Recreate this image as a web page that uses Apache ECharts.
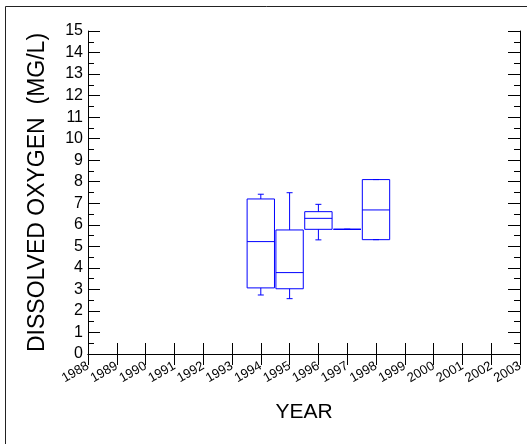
<!DOCTYPE html>
<html>
<head>
<meta charset="utf-8">
<script src="https://cdn.jsdelivr.net/npm/echarts@6/dist/echarts.min.js"></script>
<style>
  html, body { margin: 0; padding: 0; background: #fff; }
  #chart { width: 527px; height: 444px; }
</style>
</head>
<body>
<div id="chart"></div>
<script>
// Yearly dissolved oxygen summaries (mg/L)
const years        = [1994, 1995, 1996, 1997, 1998];
const whiskerLow   = [2.74, 2.57, 5.30, 5.79, 5.31];
const quartile1    = [3.07, 3.03, 5.79, 5.79, 5.31];
const medians      = [5.22, 3.78, 6.30, 5.79, 6.69];
const quartile3    = [7.20, 5.76, 6.61, 5.79, 8.10];
const whiskerHigh  = [7.42, 7.49, 6.95, 5.79, 8.10];

const FONT = '"Liberation Sans", Arial, sans-serif';
const BOX_COLOR = '#0000ff';
const BOX_HALF = 0.475;   // half box width, in years
const CAP_HALF = 3;       // half whisker-cap width, in px

const boxData = years.map((y, i) =>
  [y, whiskerLow[i], quartile1[i], medians[i], quartile3[i], whiskerHigh[i]]);

function renderBox(params, api) {
  const x = api.value(0);
  const lo = api.value(1), q1 = api.value(2), md = api.value(3),
        q3 = api.value(4), hi = api.value(5);
  const pL = api.coord([x - BOX_HALF, q3]);
  const pR = api.coord([x + BOX_HALF, q1]);
  const cx = api.coord([x, md])[0];
  const yMd = api.coord([x, md])[1];
  const yHi = api.coord([x, hi])[1];
  const yLo = api.coord([x, lo])[1];
  const st = { stroke: BOX_COLOR, lineWidth: 1, fill: null };
  const line = (x1, y1, x2, y2) => ({
    type: 'line', shape: { x1, y1, x2, y2 }, style: st
  });
  return {
    type: 'group',
    children: [
      { type: 'rect',
        shape: { x: pL[0], y: pL[1], width: pR[0] - pL[0], height: pR[1] - pL[1] },
        style: st },
      line(pL[0], yMd, pR[0], yMd),
      line(cx, pL[1], cx, yHi),
      line(cx - CAP_HALF, yHi, cx + CAP_HALF, yHi),
      line(cx, pR[1], cx, yLo),
      line(cx - CAP_HALF, yLo, cx + CAP_HALF, yLo)
    ]
  };
}

const axisLine = { show: true, lineStyle: { color: '#000', width: 1 } };

const chart = echarts.init(document.getElementById('chart'), null, { renderer: 'canvas' });
chart.setOption({
  animation: false,
  backgroundColor: '#fff',
  textStyle: { fontFamily: FONT },
  grid: { left: 88, top: 31, right: 7, bottom: 90, containLabel: false },
  graphic: [{
    type: 'rect', silent: true, z: -1,
    shape: { x: 5.5, y: 6.5, width: 600, height: 600 },
    style: { fill: null, stroke: '#222', lineWidth: 1 }
  }],
  xAxis: [{
    type: 'value', position: 'bottom',
    min: 1988, max: 2003, interval: 1,
    name: 'YEAR', nameLocation: 'middle', nameGap: 48,
    nameTextStyle: { fontSize: 21, color: '#000', fontFamily: FONT },
    axisLine,
    axisTick: { show: true, inside: true, length: 11, lineStyle: { color: '#000' } },
    axisLabel: {
      rotate: 30, fontSize: 13, margin: 11, color: '#000', fontFamily: FONT,
      formatter: v => String(v)
    },
    splitLine: { show: false }
  }, {
    type: 'value', position: 'top',
    min: 1988, max: 2003, interval: 1,
    axisLine,
    axisTick: { show: true, inside: true, length: 11, lineStyle: { color: '#000' } },
    axisLabel: { show: false },
    splitLine: { show: false }
  }],
  yAxis: [{
    type: 'value', position: 'left',
    min: 0, max: 15, interval: 1,
    name: 'DISSOLVED OXYGEN  (MG/L)', nameLocation: 'middle', nameGap: 39,
    nameTextStyle: { fontSize: 23, color: '#000', fontFamily: FONT },
    axisLine,
    axisTick: { show: true, inside: true, length: 12, lineStyle: { color: '#000' } },
    minorTick: { show: true, splitNumber: 2, length: 6, lineStyle: { color: '#000' } },
    axisLabel: { fontSize: 16, margin: 5, color: '#000', fontFamily: FONT },
    splitLine: { show: false }
  }, {
    type: 'value', position: 'right',
    min: 0, max: 15, interval: 1,
    axisLine,
    axisTick: { show: true, inside: true, length: 12, lineStyle: { color: '#000' } },
    minorTick: { show: true, splitNumber: 2, length: 6, lineStyle: { color: '#000' } },
    axisLabel: { show: false },
    splitLine: { show: false }
  }],
  series: [{
    type: 'custom',
    xAxisIndex: 0, yAxisIndex: 0,
    renderItem: renderBox,
    encode: { x: 0, y: [1, 2, 3, 4, 5] },
    data: boxData,
    clip: false
  }]
});
</script>
</body>
</html>
